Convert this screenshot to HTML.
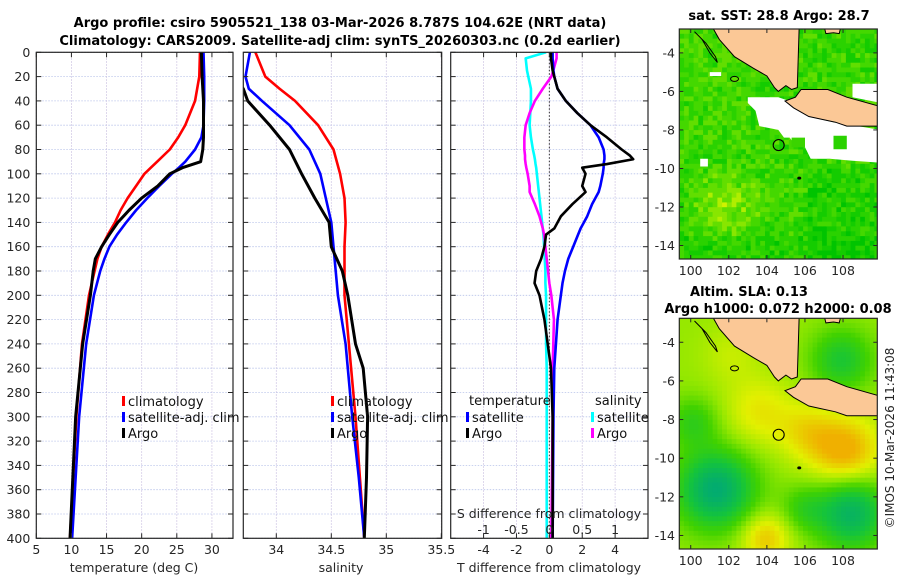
<!DOCTYPE html>
<html><head><meta charset="utf-8"><style>
html,body{margin:0;padding:0;background:#fff;}
svg{display:block;font-family:"DejaVu Sans","Liberation Sans",sans-serif;}
</style></head><body>
<svg id="fig" width="900" height="580" viewBox="0 0 900 580" xmlns="http://www.w3.org/2000/svg">
<defs>
<clipPath id="c1"><rect x="36.3" y="52.3" width="196.7" height="486"/></clipPath>
<clipPath id="c2"><rect x="243.3" y="52.3" width="198.4" height="486"/></clipPath>
<clipPath id="c3"><rect x="450.7" y="52.3" width="197.3" height="486"/></clipPath>
<clipPath id="cm1"><rect x="679.3" y="29" width="198" height="230"/></clipPath>
<clipPath id="cm2"><rect x="679.3" y="318.3" width="198" height="230.7"/></clipPath>
</defs>
<text x="340" y="27" text-anchor="middle" font-size="13" font-weight="bold">Argo profile: csiro 5905521_138 03-Mar-2026 8.787S 104.62E (NRT data)</text>
<text x="340" y="45" text-anchor="middle" font-size="13" font-weight="bold">Climatology: CARS2009. Satellite-adj clim: synTS_20260303.nc (0.2d earlier)</text>
<g id="g1"></g><g id="g2"></g><g id="g3"></g><g id="gm"></g>
<text x="779" y="20" text-anchor="middle" font-size="13" font-weight="bold">sat. SST: 28.8 Argo: 28.7</text>
<text x="749" y="296" text-anchor="middle" font-size="13" font-weight="bold">Altim. SLA: 0.13</text>
<text x="778" y="313" text-anchor="middle" font-size="13" font-weight="bold">Argo h1000: 0.072 h2000: 0.08</text>
<text transform="translate(894,438) rotate(-90)" text-anchor="middle" font-size="12" fill="#262626">©IMOS 10-Mar-2026 11:43:08</text>
</svg>
<script>
// ---- temperature panel data ----
const tDepth=[0,20,40,60,70,80,90,95,100,110,120,130,140,150,160,170,180,200,240,300,400];
const climT=[28.3,28.2,27.6,26.2,25.2,24.0,22.2,21.3,20.4,19.2,18.0,17.0,16.2,15.2,14.3,13.7,13.3,12.5,11.5,10.7,9.8];
const satT=[28.8,28.9,28.9,28.8,28.5,27.6,26.2,25.3,24.3,22.5,20.8,19.2,17.8,16.5,15.4,14.7,14.1,13.2,12.1,11.1,10.1];
const argoT=[28.5,28.6,28.8,28.8,28.8,28.7,28.4,25.8,24.0,22.3,20.0,18.2,16.6,15.4,14.3,13.4,13.1,12.7,11.6,10.6,9.8];
// ---- salinity panel data ----
const sDepth=[0,20,30,40,60,80,100,120,140,160,180,200,240,260,280,300,350,400];
const climS=[33.81,33.9,34.03,34.17,34.38,34.52,34.58,34.62,34.63,34.62,34.62,34.62,34.66,34.68,34.7,34.72,34.76,34.8];
const satS=[33.76,33.72,33.75,33.87,34.12,34.3,34.4,34.45,34.5,34.52,34.54,34.56,34.63,34.65,34.67,34.69,34.75,34.8];
const argoS=[33.6,33.62,33.7,33.74,33.94,34.12,34.23,34.35,34.48,34.5,34.6,34.65,34.72,34.79,34.81,34.83,34.82,34.8];
// ---- difference panel data ----
const dDepth=[0,5,15,20,30,40,50,60,70,80,85,88,92,95,100,110,115,125,135,145,150,160,170,180,190,200,220,240,260,300,400];
const satDT=[0.2,0.2,0.25,0.3,0.5,1.0,1.7,2.5,3.0,3.3,3.35,3.35,3.3,3.3,3.25,3.1,3.0,2.6,2.3,1.9,1.75,1.45,1.15,0.95,0.8,0.7,0.5,0.4,0.3,0.25,0.2];
const argoDT=[0.1,0.1,0.2,0.3,0.5,1.0,1.7,2.5,3.5,4.4,4.9,5.1,3.5,2.0,2.2,2.0,2.2,1.4,0.7,0.3,-0.2,-0.3,-0.5,-0.8,-0.9,-0.6,-0.3,-0.1,0.1,0.2,0.2];
const satDS=[-0.05,-0.36,-0.34,-0.32,-0.28,-0.28,-0.29,-0.3,-0.28,-0.25,-0.23,-0.22,-0.21,-0.2,-0.19,-0.17,-0.16,-0.14,-0.12,-0.1,-0.09,-0.08,-0.07,-0.06,-0.06,-0.05,-0.05,-0.05,-0.04,-0.04,-0.04];
const argoDS=[0.11,0.11,0.06,0.03,-0.1,-0.22,-0.3,-0.36,-0.38,-0.38,-0.37,-0.37,-0.36,-0.35,-0.33,-0.3,-0.3,-0.22,-0.15,-0.1,-0.08,-0.06,-0.04,-0.02,0.0,0.03,0.07,0.06,0.05,0.05,0.03];
// ---- tick labels ----
const depthTicks=[0,20,40,60,80,100,120,140,160,180,200,220,240,260,280,300,320,340,360,380,400];
const tTicks=[5,10,15,20,25,30];
const sTicks=[34,34.5,35,35.5];
const dtTicks=[-4,-2,0,2,4];
const dsTicks=[-1,-0.5,0,0.5,1];
const dsTickLabels=["-1","-0.5","0","0.5","1"];
const lonTicks=[100,102,104,106,108];
const latTicks=[-4,-6,-8,-10,-12,-14];
// ---- map markers ----
const argoLon=104.62, argoLat=-8.787;

const NS="http://www.w3.org/2000/svg";
function mk(parent,tag,attrs,txt){const e=document.createElementNS(NS,tag);for(const k in attrs)e.setAttribute(k,attrs[k]);if(txt!==undefined)e.textContent=txt;parent.appendChild(e);return e;}
const Y0=52.3,Y1=538.3;
const yD=d=>Y0+(d/400)*(Y1-Y0);
function lin(d0,d1,p0,p1){return v=>p0+(v-d0)/(d1-d0)*(p1-p0);}
const C='#262626';

function panel(g,x0,x1,xs,xticks,xlabels,showY,name){
  const bg=mk(g,'rect',{x:x0,y:Y0,width:x1-x0,height:Y1-Y0,fill:'#fff'});
  
  
  depthTicks.forEach(d=>{const l=mk(g,'line',{x1:x0,x2:x1,y1:yD(d),y2:yD(d),stroke:'#b9c3ea','stroke-width':0.8,'stroke-dasharray':'1.5,1.5'});
    
    });
  xticks.forEach(v=>{const x=xs(v);const l=mk(g,'line',{x1:x,x2:x,y1:Y0,y2:Y1,stroke:'#c9bfe0','stroke-width':0.8,'stroke-dasharray':'1.5,1.5'});
    
    });
}
function frame(g,x0,x1,xs,xticks,xlabels,showY,name){
  depthTicks.forEach(d=>{
    mk(g,'line',{x1:x0,x2:x0+5,y1:yD(d),y2:yD(d),stroke:C,'stroke-width':1});
    mk(g,'line',{x1:x1-5,x2:x1,y1:yD(d),y2:yD(d),stroke:C,'stroke-width':1});
    if(showY){const t=mk(g,'text',{x:x0-6,y:yD(d)+4.5,'text-anchor':'end','font-size':12.5,fill:C},String(d));
      
      }
  });
  xticks.forEach((v,i)=>{const x=xs(v);
    mk(g,'line',{x1:x,x2:x,y1:Y1,y2:Y1-5,stroke:C,'stroke-width':1});
    mk(g,'line',{x1:x,x2:x,y1:Y0,y2:Y0+5,stroke:C,'stroke-width':1});
    const t=mk(g,'text',{x:x,y:554,'text-anchor':'middle','font-size':12.5,fill:C},xlabels[i]);
    
    });
  const r=mk(g,'rect',{x:x0,y:Y0,width:x1-x0,height:Y1-Y0,fill:'none',stroke:C,'stroke-width':1.2});
  
  
}
function series(g,clip,xs,vals,depths,color,name,w){
  let d='';vals.forEach((v,i)=>{d+=(i?'L':'M')+xs(v).toFixed(2)+','+yD(depths[i]).toFixed(2);});
  const p=mk(g,'path',{d:d,fill:'none',stroke:color,'stroke-width':w||2.6,'stroke-linejoin':'round','clip-path':'url(#'+clip+')'});
  
  
}
function legendRow(g,x,y,color,label,name){
  const r=mk(g,'rect',{x:x,y:y-5,width:3,height:10,fill:color});
  
  
  const t=mk(g,'text',{x:x+6,y:y+5,'font-size':13,fill:'#111'},label);
  
  
}
// Panel 1
const g1=document.getElementById('g1');
const xT=lin(5,33,36.3,233);
panel(g1,36.3,233,xT,tTicks,null,true,'temperature');
series(g1,'c1',xT,climT,tDepth,'#f00','climatology-temperature-line');
series(g1,'c1',xT,satT,tDepth,'#00f','satellite-temperature-line');
series(g1,'c1',xT,argoT,tDepth,'#000','argo-temperature-line',3);
frame(g1,36.3,233,xT,tTicks,tTicks.map(String),true,'temperature');
legendRow(g1,122,401,'#f00','climatology','legend-climatology');
legendRow(g1,122,417,'#00f','satellite-adj. clim','legend-satellite');
legendRow(g1,122,433,'#000','Argo','legend-argo');
mk(g1,'text',{x:134,y:572,'text-anchor':'middle','font-size':12.5,fill:C},'temperature (deg C)');
// Panel 2
const g2=document.getElementById('g2');
const xS=lin(33.7,35.5,243.3,441.3);
panel(g2,243.3,441.7,xS,sTicks,null,false,'salinity');
series(g2,'c2',xS,climS,sDepth,'#f00','climatology-salinity-line');
series(g2,'c2',xS,satS,sDepth,'#00f','satellite-salinity-line');
series(g2,'c2',xS,argoS,sDepth,'#000','argo-salinity-line',3);
frame(g2,243.3,441.7,xS,sTicks,sTicks.map(String),false,'salinity');
legendRow(g2,331,401,'#f00','climatology','legend-climatology');
legendRow(g2,331,417,'#00f','satellite-adj. clim','legend-satellite');
legendRow(g2,331,433,'#000','Argo','legend-argo');
mk(g2,'text',{x:341,y:572,'text-anchor':'middle','font-size':12.5,fill:C},'salinity');
// Panel 3
const g3=document.getElementById('g3');
const xDT=lin(-6,6,450.7,648);
const xDS=lin(-1.5,1.5,450.7,648);
panel(g3,450.7,648,xDT,dtTicks,null,false,'difference');
const zl=mk(g3,'line',{x1:xDT(0),x2:xDT(0),y1:Y0,y2:Y1,stroke:'#333','stroke-width':1,'stroke-dasharray':'1.5,2'});


series(g3,'c3',xDS,satDS,dDepth,'#0ff','satellite-salinity-diff-line');
series(g3,'c3',xDS,argoDS,dDepth,'#f0f','argo-salinity-diff-line');
series(g3,'c3',xDT,satDT,dDepth,'#00f','satellite-temperature-diff-line');
series(g3,'c3',xDT,argoDT,dDepth,'#000','argo-temperature-diff-line');
frame(g3,450.7,648,xDT,dtTicks,dtTicks.map(String),false,'difference');
mk(g3,'text',{x:469,y:405,'font-size':13,fill:'#111'},'temperature');
mk(g3,'text',{x:595,y:405,'font-size':13,fill:'#111'},'salinity');
legendRow(g3,466,417,'#00f','satellite','legend-temp-satellite');
legendRow(g3,466,433,'#000','Argo','legend-temp-argo');
legendRow(g3,591,417,'#0ff','satellite','legend-sal-satellite');
legendRow(g3,591,433,'#f0f','Argo','legend-sal-argo');
mk(g3,'text',{x:549,y:518,'text-anchor':'middle','font-size':12.5,fill:C},'S difference from climatology');
dsTicks.forEach((v,i)=>{const t=mk(g3,'text',{x:xDS(v),y:534,'text-anchor':'middle','font-size':12.5,fill:C},dsTickLabels[i]);
  
  });
mk(g3,'text',{x:549,y:572,'text-anchor':'middle','font-size':12.5,fill:C},'T difference from climatology');

// ---- maps ----
const gm=document.getElementById('gm');
const LON0=99.4,LON1=109.8,LAT0=-2.76,LAT1=-14.7;
function mapAxes(top,bot){return {x:lin(LON0,LON1,679.3,877.3),y:lin(LAT0,LAT1,top,bot)};}
const sumatra=[[101.1,-2.6],[101.5,-3.3],[102.3,-4.2],[103.3,-4.8],[104.0,-5.2],[104.4,-5.8],[104.6,-6.0],[105.0,-5.7],[105.3,-5.9],[105.6,-5.8],[105.7,-2.6]];
const java=[[105.8,-5.9],[105.5,-6.3],[104.95,-6.5],[105.4,-6.85],[106.2,-7.3],[107.6,-7.6],[108.2,-7.8],[110,-7.8],[110,-6.8],[108.2,-6.3],[107.2,-5.9],[106.4,-5.9]];
const bangka=[[107.0,-2.6],[107.1,-3.0],[107.5,-2.95],[107.8,-3.0],[107.9,-2.6]];
function poly(g,ax,pts,attrs,name){const d=pts.map((p,i)=>(i?'L':'M')+ax.x(p[0]).toFixed(1)+','+ax.y(p[1]).toFixed(1)).join('')+'Z';const e=mk(g,'path',Object.assign({d:d},attrs));return e;}
function hash(i,j){let h=(i*374761393+j*668265263)>>>0;h=(h^(h>>>13))*1274126177>>>0;return (h%1000)/1000;}
function drawMap(top,bot,clip,kind,name){
  const ax=mapAxes(top,bot);
  const g=mk(gm,'g',{'clip-path':'url(#'+clip+')'});
  
  
  const step=0.25;
  const sstPal=['#00c400','#14cc00','#2ad200','#44d800','#62de00','#88e600','#b0ee00','#d0f200'];
  for(let lon=LON0;lon<LON1;lon+=step){for(let lat=LAT0;lat>LAT1-step;lat-=step){
    const i=Math.round(lon*4),j=Math.round(-lat*4);let col;
    if(kind==='sst'){
      let v=hash(i,j)*3.0+1.4;
      const db=Math.hypot(lon-101.8,(lat+11.7)*1.1);v+=Math.max(0,3.0-db*1.2);
      if(lat>-9&&lon<103)v+=0.5;
      if(lon>106&&lat<-10)v-=0.8;
      if(lat<-13.5)v-=0.7;
      col=sstPal[Math.max(0,Math.min(7,Math.floor(v)))];
    } else {
      const G=(x,y,r,a)=>a*Math.exp(-((lon-x)**2+(lat-y)**2)/(r*r));
      let v=0.45+G(108,-9.5,1.8,0.6)+G(106,-8.5,1.5,0.3)+G(103.5,-7.5,1.8,0.3)+G(103.8,-14,1.3,0.45)+G(102,-4.5,1.5,0.15)
        -G(101.2,-11.5,2.0,0.9)-G(108.3,-12.7,1.8,0.8)-G(107.8,-4.8,1.6,0.5)-G(100,-8,1.3,0.35)-G(105.8,-12.5,1.2,0.3);
      const stops=[[-0.5,[0,168,120]],[-0.1,[20,196,60]],[0.2,[64,210,0]],[0.45,[150,232,0]],[0.7,[226,240,0]],[1.0,[240,176,0]]];
      v=Math.max(-0.5,Math.min(1.0,v));let k=0;while(k<stops.length-2&&v>stops[k+1][0])k++;
      const a=stops[k],b=stops[k+1],t=(v-a[0])/(b[0]-a[0]);
      col='rgb('+a[1].map((c,q)=>Math.round(c+(b[1][q]-c)*t)).join(',')+')';
    }
    mk(g,'rect',{x:ax.x(lon).toFixed(1),y:ax.y(lat).toFixed(1),width:(step*19.1+0.6).toFixed(1),height:(step*19.34+0.6).toFixed(1),fill:col});
  }}
  if(kind==='sst'){
    poly(g,ax,[[103.0,-6.3],[104.6,-6.3],[105.5,-6.6],[106.2,-7.3],[107.5,-7.6],[110,-8.0],[110,-9.7],[108.5,-9.6],[107.3,-9.5],[106.3,-9.5],[106.0,-8.9],[105.5,-8.8],[105.2,-8.4],[104.9,-8.4],[104.6,-8.0],[103.6,-7.8],[103.4,-7.0],[103.0,-6.6]],{fill:'#fff'},'missing-data-region');
    poly(g,ax,[[108.5,-5.6],[110,-5.6],[110,-6.6],[108.5,-6.3]],{fill:'#fff'},'missing-data-region');
    poly(g,ax,[[101.0,-5.0],[101.6,-5.0],[101.6,-5.2],[101.0,-5.2]],{fill:'#fff'},'missing-data-region');
    poly(g,ax,[[100.5,-9.5],[100.9,-9.5],[100.9,-9.9],[100.5,-9.9]],{fill:'#fff'},'missing-data-region');
    poly(g,ax,[[105.3,-8.4],[106.0,-8.4],[106.0,-8.9],[105.3,-8.9]],{fill:'#3ad400'},'data-cell');
    poly(g,ax,[[107.5,-8.3],[108.2,-8.3],[108.2,-9.0],[107.5,-9.0]],{fill:'#2ad200'},'data-cell');
  }
  const landA={fill:'#fbc896',stroke:'#000','stroke-width':1};
  poly(g,ax,sumatra,landA,'sumatra-land');
  poly(g,ax,java,landA,'java-land');
  poly(g,ax,bangka,landA,'bangka-land');
  poly(g,ax,[[100.2,-2.9],[100.6,-3.3],[101.0,-4.0],[101.4,-4.5],[101.3,-4.2],[100.8,-3.5]],{fill:'none',stroke:'#000','stroke-width':1},'mentawai-island');
  const e=mk(g,'ellipse',{cx:ax.x(102.3),cy:ax.y(-5.35),rx:4,ry:2.5,fill:'none',stroke:'#000','stroke-width':1});
  
  
  const c=mk(g,'circle',{cx:ax.x(argoLon),cy:ax.y(argoLat),r:5.5,fill:'none',stroke:'#000','stroke-width':1.1});
  
  
  const dt=mk(g,'ellipse',{cx:ax.x(105.7),cy:ax.y(-10.5),rx:2,ry:1.5,fill:'#000'});
  
  
  const fr=mk(gm,'rect',{x:679.3,y:top,width:198,height:bot-top,fill:'none',stroke:C,'stroke-width':1.2});
  
  
  lonTicks.forEach(v=>{const x=ax.x(v);
    mk(gm,'line',{x1:x,x2:x,y1:bot,y2:bot-4,stroke:C});mk(gm,'line',{x1:x,x2:x,y1:top,y2:top+4,stroke:C});
    const t=mk(gm,'text',{x:x,y:bot+16,'text-anchor':'middle','font-size':12.5,fill:C},String(v));
    
    });
  latTicks.forEach(v=>{const y=ax.y(v);
    mk(gm,'line',{x1:679.3,x2:683.3,y1:y,y2:y,stroke:C});mk(gm,'line',{x1:873.3,x2:877.3,y1:y,y2:y,stroke:C});
    const t=mk(gm,'text',{x:675,y:y+4.5,'text-anchor':'end','font-size':12.5,fill:C},String(v));
    
    });
}
drawMap(29,259,'cm1','sst','sst-map');
drawMap(318.3,549,'cm2','sla','sla-map');
</script>
</body></html>
